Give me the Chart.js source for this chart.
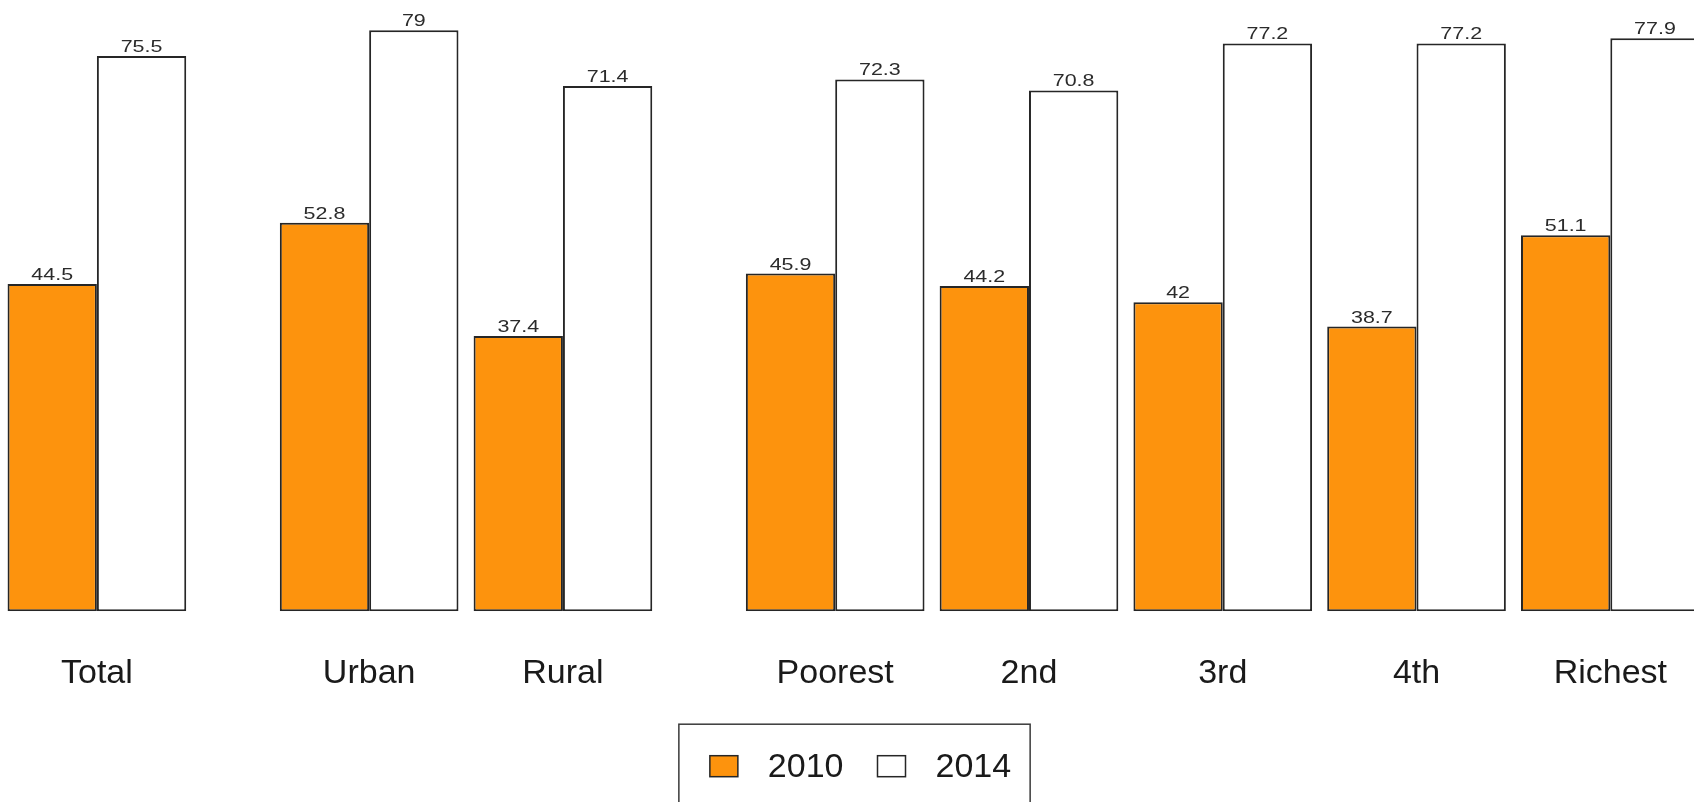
<!DOCTYPE html>
<html>
<head>
<meta charset="utf-8">
<title>2010 vs 2014 by residence and wealth quintile</title>
<script src="https://cdn.jsdelivr.net/npm/chart.js@4/dist/chart.umd.min.js"></script>
<style>
  html, body { margin: 0; padding: 0; background: #ffffff; overflow: hidden; }
  #wrap { width: 1709px; height: 830px; }
  canvas { display: block; }
</style>
</head>
<body>
<div id="wrap"><canvas id="chart" width="1709" height="830"></canvas></div>
<script>
// Groups, split into sections that are drawn with a wider gap between them
const sectionTotal = ['Total'];
const sectionResidence = ['Urban', 'Rural'];
const sectionWealth = ['Poorest', '2nd', '3rd', '4th', 'Richest'];

const seriesNames = ['2010', '2014'];
const values2010 = [44.5, 52.8, 37.4, 45.9, 44.2, 42, 38.7, 51.1];
const values2014 = [75.5, 79, 71.4, 72.3, 70.8, 77.2, 77.2, 77.9];

const sections = [sectionTotal, sectionResidence, sectionWealth];
const categories = sections.flat();

// Position of each group along the x axis: one unit per group,
// plus an extra gap between sections.
const SECTION_GAP = 0.405;
const positions = [];
sections.forEach((sec, s) => {
  sec.forEach(() => positions.push(positions.length + s * SECTION_GAP));
});

const ORANGE = '#FD930D';
const EDGE = '#262626';
const FONT = '"Liberation Sans", Arial, Helvetica, sans-serif';

const toPoints = vals => vals.map((v, i) => ({ x: positions[i], y: v }));

// Value printed above every bar
const valueLabels = {
  id: 'valueLabels',
  afterDatasetsDraw(chart) {
    const ctx = chart.ctx;
    ctx.save();
    ctx.font = '16.5px ' + FONT;
    ctx.fillStyle = '#2b2b2b';
    ctx.textAlign = 'center';
    ctx.textBaseline = 'alphabetic';
    chart.data.datasets.forEach((ds, di) => {
      const meta = chart.getDatasetMeta(di);
      meta.data.forEach((bar, i) => {
        ctx.save();
        ctx.translate(bar.x, bar.y - 4);
        ctx.scale(1.3, 1);
        ctx.fillText(String(ds.data[i].y), 0, 0);
        ctx.restore();
      });
    });
    ctx.restore();
  }
};

// Boxed legend under the axis labels
const boxedLegend = {
  id: 'boxedLegend',
  afterDraw(chart) {
    const ctx = chart.ctx;
    const fontSize = 34;
    ctx.save();
    ctx.font = fontSize + 'px ' + FONT;
    const sq = { w: 28, h: 21 };
    const padL = 31, padR = 19, gapText = 30, gapItem = 34;
    const items = chart.data.datasets.map(ds => ({
      text: ds.label, fill: ds.backgroundColor, w: ctx.measureText(ds.label).width
    }));
    let width = padL + padR;
    items.forEach((it, k) => { width += sq.w + gapText + it.w + (k ? gapItem : 0); });
    const top = chart.chartArea.bottom + 113;
    const height = 84;
    const left = chart.width / 2 - width / 2;
    const midY = top + height / 2;

    ctx.lineWidth = 1.5;
    ctx.strokeStyle = '#3a3a3a';
    ctx.strokeRect(left, top, width, height);

    let x = left + padL;
    ctx.textAlign = 'left';
    ctx.textBaseline = 'middle';
    items.forEach((it, k) => {
      if (k) x += gapItem;
      ctx.fillStyle = it.fill;
      ctx.fillRect(x, midY - sq.h / 2, sq.w, sq.h);
      ctx.lineWidth = 1.5;
      ctx.strokeStyle = EDGE;
      ctx.strokeRect(x, midY - sq.h / 2, sq.w, sq.h);
      x += sq.w + gapText;
      ctx.fillStyle = '#1a1a1a';
      ctx.fillText(it.text, x, midY + 1);
      x += it.w;
    });
    ctx.restore();
  }
};

new Chart(document.getElementById('chart'), {
  type: 'bar',
  data: {
    datasets: [
      {
        label: seriesNames[0],
        data: toPoints(values2010),
        backgroundColor: ORANGE,
        borderColor: EDGE,
        borderWidth: 2,
        borderSkipped: false
      },
      {
        label: seriesNames[1],
        data: toPoints(values2014),
        backgroundColor: '#ffffff',
        borderColor: EDGE,
        borderWidth: 2,
        borderSkipped: false
      }
    ]
  },
  plugins: [valueLabels, boxedLegend],
  options: {
    responsive: false,
    animation: false,
    devicePixelRatio: 1,
    categoryPercentage: 0.922,
    barPercentage: 1,
    layout: { padding: { top: 0, left: 0, right: 0, bottom: 94 } },
    plugins: {
      legend: { display: false },
      tooltip: { enabled: false }
    },
    scales: {
      x: {
        type: 'linear',
        offset: false,
        min: positions[0] - 0.5,
        max: positions[positions.length - 1] + 0.5,
        grid: { display: false, drawTicks: false },
        border: { display: false },
        afterBuildTicks(scale) {
          scale.ticks = positions.map(v => ({ value: v }));
        },
        ticks: {
          autoSkip: false,
          maxRotation: 0,
          minRotation: 0,
          padding: 42,
          color: '#1a1a1a',
          font: { family: FONT, size: 34 },
          callback: (value, index) => categories[index]
        }
      },
      y: {
        display: false,
        min: 0,
        max: 83.1
      }
    }
  }
});
</script>
</body>
</html>
